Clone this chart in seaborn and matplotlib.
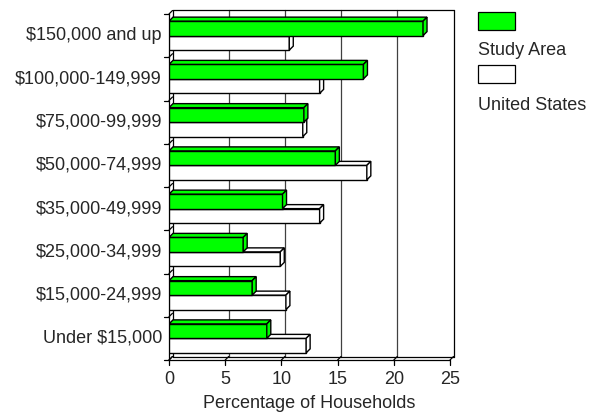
import matplotlib
matplotlib.use("Agg")
import matplotlib.pyplot as plt
from matplotlib.patches import Polygon, Rectangle
import seaborn as sns
import pandas as pd

# Household income distribution: study area vs. national share
brackets = ["$150,000 and up", "$100,000-149,999", "$75,000-99,999", "$50,000-74,999",
            "$35,000-49,999", "$25,000-34,999", "$15,000-24,999", "Under $15,000"]
study_area = [22.6, 17.3, 12.0, 14.8, 10.1, 6.6, 7.4, 8.7]
united_states = [10.7, 13.4, 11.9, 17.6, 13.4, 9.9, 10.4, 12.2]
series = ["Study Area", "United States"]
colors = {"Study Area": "#00ff00", "United States": "#ffffff"}
x_ticks = [0, 5, 10, 15, 20, 25]

sns.set_style("white")
plt.rcParams["font.family"] = ["Liberation Sans", "DejaVu Sans"]
plt.rcParams["font.size"] = 13

df = pd.DataFrame({
    "bracket": brackets * 2,
    "pct": study_area + united_states,
    "area": [series[0]] * len(brackets) + [series[1]] * len(brackets),
})

W, H = 591, 413
fig = plt.figure(figsize=(W / 100, H / 100), dpi=100)

# pixel geometry of the front plane and the depth offsets
px_left, px_right, px_top, px_bottom = 169, 450, 14, 360
wall_d = 3.5   # depth of back wall / floor in px
bar_d = 4.0    # depth of bars in px
xmax = x_ticks[-1]
ncat = len(brackets)
ux = (px_right - px_left) / xmax           # px per percent
uy = (px_bottom - px_top) / ncat           # px per category
wdx, wdy = wall_d / ux, wall_d / uy
bdx, bdy = bar_d / ux, bar_d / uy

ax = fig.add_axes([px_left / W, (H - px_bottom) / H,
                   (px_right + wall_d - px_left) / W, (px_bottom - px_top + wall_d) / H])

sns.barplot(data=df, x="pct", y="bracket", hue="area", order=brackets, hue_order=series,
            palette=colors, saturation=1, orient="h", width=0.67, gap=0, edgecolor="black",
            linewidth=1.0, legend=False, ax=ax)

ax.set_xlim(0, xmax + wdx)
ax.set_ylim(ncat - 0.5, -0.5 - wdy)
for s in ax.spines.values():
    s.set_visible(False)
ax.set_xticks([])
ax.set_yticks([])
ax.set_xlabel("")
ax.set_ylabel("")

line_kw = dict(color="black", lw=0.9, zorder=1, clip_on=False)
grid_kw = dict(color="#404040", lw=0.9, zorder=0.5, clip_on=False)
top_y, bot_y = -0.5, ncat - 0.5

# back wall and gridlines
for v in x_ticks:
    ax.plot([v + wdx, v + wdx], [top_y - wdy, bot_y - wdy], **(line_kw if v in (0, xmax) else grid_kw))
ax.plot([wdx, xmax + wdx], [top_y - wdy, top_y - wdy], **line_kw)
# floor
ax.plot([0, xmax], [bot_y, bot_y], **line_kw)
ax.plot([wdx, xmax + wdx], [bot_y - wdy, bot_y - wdy], **line_kw)
for v in x_ticks:
    ax.plot([v, v + wdx], [bot_y, bot_y - wdy], **line_kw)
    ax.plot([v, v], [bot_y, bot_y + 5 / uy], **line_kw)
    ax.text(v, bot_y + 24 / uy, str(v), ha="center", va="baseline", fontsize=13)
# left wall
ax.plot([0, 0], [top_y, bot_y], **line_kw)
for k in range(ncat + 1):
    b = k - 0.5
    ax.plot([0, wdx], [b, b - wdy], **line_kw)
    ax.plot([-5 / ux, 0], [b, b], **line_kw)
for k, lab in enumerate(brackets):
    ax.text(-7 / ux, k, lab, ha="right", va="center", fontsize=13)
ax.text(xmax / 2, bot_y + 48 / uy, "Percentage of Households", ha="center", va="baseline", fontsize=13)

# 3D faces for each bar
for zi, (name, cont) in enumerate(zip(series, ax.containers)):
    z = 3 - zi  # upper bar drawn over the one below
    for rect in cont:
        rect.set_zorder(z)
        x0 = rect.get_x()
        x1 = x0 + rect.get_width()
        y0 = rect.get_y()
        y1 = y0 + rect.get_height()
        yt, yb = min(y0, y1), max(y0, y1)
        top = Polygon([(x0, yt), (x1, yt), (x1 + bdx, yt - bdy), (x0 + bdx, yt - bdy)],
                      closed=True, facecolor=colors[name], edgecolor="black", lw=1.0, zorder=z)
        side = Polygon([(x1, yt), (x1, yb), (x1 + bdx, yb - bdy), (x1 + bdx, yt - bdy)],
                       closed=True, facecolor=colors[name], edgecolor="black", lw=1.0, zorder=z)
        ax.add_patch(top)
        ax.add_patch(side)

# legend
leg_x, box_w, box_h = 478, 37, 18
for name, by, ty in [(series[0], 12, 55), (series[1], 65, 110)]:
    fig.patches.append(Rectangle((leg_x / W, (H - by - box_h) / H), box_w / W, box_h / H,
                                 transform=fig.transFigure, facecolor=colors[name],
                                 edgecolor="black", lw=0.9))
    fig.text(leg_x / W, (H - ty) / H, name, ha="left", va="baseline", fontsize=13)

fig.savefig("out.png", dpi=100)
